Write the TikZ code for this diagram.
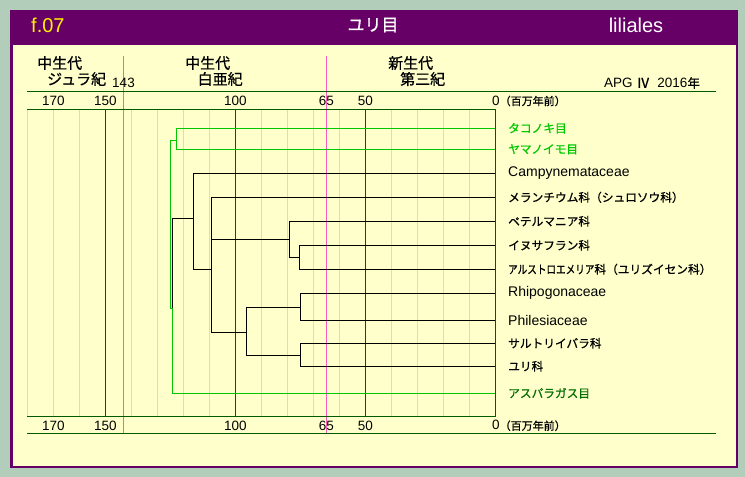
\documentclass[tikz,border=0pt]{standalone}
\usepackage{fontspec}
\setmainfont{Liberation Sans}
\newfontfamily\jp{Noto Sans CJK JP}[FakeBold=0.8]
\usetikzlibrary{positioning}
\definecolor{bgout}{RGB}{178,206,186}
\definecolor{paper}{RGB}{255,255,204}
\definecolor{headpurple}{RGB}{102,0,102}
\definecolor{axisgreen}{RGB}{0,90,0}
\definecolor{gridcyan}{RGB}{160,240,240}
\definecolor{gridpurple}{RGB}{128,0,128}
\definecolor{gridpink}{RGB}{255,90,190}
\definecolor{brightgreen}{RGB}{0,200,0}
\definecolor{darkgreen}{RGB}{0,110,0}
\newcommand\latname[1]{{\normalfont\fontsize{14}{14}\selectfont #1}}

\begin{document}
\begin{tikzpicture}
    [x=1pt,y=-1pt,every node/.style={inner sep=0pt, font=\fontsize{13.5}{13.5}\selectfont},
     era/.style={anchor=west, font=\jp\fontsize{15}{15}\selectfont},
     leaf/.style={anchor=west, font=\jp\fontsize{11.7}{12}\selectfont},
     axisline/.style={axisgreen, line width=1.5pt},
     gline/.style={brightgreen, line width=1.2pt},
     bline/.style={black, line width=1.2pt}]
  \useasboundingbox (0,0) rectangle (745,477);
  \fill[bgout] (0,0) rectangle (745,477);
  \fill[headpurple] (10,10) rectangle (738,468);
  \fill[paper] (12.5,45) rectangle (735.5,465.5);

  \node[anchor=west, text=yellow, font=\fontsize{20}{20}\selectfont] (fig) at (31,25) {f.07};
  \node[text=white, font=\jp\fontsize{17}{17}\selectfont] (title) at (373,25) {ユリ目};
  \node[text=white, font=\fontsize{20}{20}\selectfont] (latin) at (636,25) {liliales};

  \foreach \t in {180,170,...,10}
    \draw[gridcyan, line width=1pt] ({495.3-2.6*\t},109.3) -- ({495.3-2.6*\t},416);
  \foreach \t in {150,100,50}
    \draw[gridpurple, line width=1.2pt] ({495.3-2.6*\t},109.3) -- ({495.3-2.6*\t},416);
  \foreach \t in {143,65}
    \draw[gridpink, line width=1pt] ({495.3-2.6*\t},56) -- ({495.3-2.6*\t},433.3);

  \draw[axisline] (27,91.7) -- (716,91.7);
  \draw[axisline] (27,109.3) -- (495.3,109.3) -- (495.3,416.3) -- (27,416.3);
  \draw[axisline] (27,433.3) -- (716,433.3);

  \node[era] (meso1) at (37,63) {中生代};
  \node[era] (jura) at (47,79) {ジュラ紀};
  \node (b143) at (123.5,82.5) {143};
  \node[era] (meso2) at (185,63) {中生代};
  \node[era] (creta) at (197.5,79) {白亜紀};
  \node[era] (ceno) at (388,63) {新生代};
  \node[era] (tert) at (400,79) {第三紀};
  \node[anchor=west] (apg) at (604,83) {APG {\jp Ⅳ}\ \ 2016{\jp\fontsize{12.5}{12.5}\selectfont 年}};

  \foreach \t in {170,150,100,65,50} {
    \node (top\t) at ({495.3-2.6*\t},101) {\t};
    \node (bot\t) at ({495.3-2.6*\t},425.7) {\t};
  }
  \node[anchor=west] (top0) at (492,101) {0{\jp\fontsize{11}{11}\selectfont （百万年前）}};
  \node[anchor=west] (bot0) at (492,425.7) {0{\jp\fontsize{11}{11}\selectfont （百万年前）}};

  \foreach \name/\y/\col/\txt in {tako/128.3/brightgreen/タコノキ目, yama/149.3/brightgreen/ヤマノイモ目,
      camp/173.3/black/\latname{Campynemataceae}, melan/197.3/black/メランチウム科（シュロソウ科）,
      peter/221.3/black/ペテルマニア科, inu/245.3/black/イヌサフラン科,
      alst/269.3/black/\scalebox{0.82}[1]{アルストロエメリア}科（ユリズイセン科）,
      rhipo/293.3/black/\latname{Rhipogonaceae}, phile/320.3/black/\latname{Philesiaceae},
      sarut/343.3/black/サルトリイバラ科, yuri/366.3/black/ユリ科, aspa/393.3/darkgreen/アスパラガス目} {
    \coordinate (\name-e) at (495.3,\y);
    \node[leaf, text=\col] (\name) at (508,\y) {\txt};
  }

  \coordinate (root) at (170.3,140.3);
  \coordinate (pd) at (176.3,140.3);
  \coordinate (la) at (172.3,308.3);
  \coordinate (lil) at (193.3,218.3);
  \coordinate (mel) at (211.3,269.3);
  \coordinate (pc) at (289.3,239.3);
  \coordinate (ca) at (299.3,257.3);
  \coordinate (rs) at (246.3,332.3);
  \coordinate (rp) at (300.3,307.3);
  \coordinate (sl) at (300.3,355.3);

  \foreach \from/\to in {root/pd, root/la, pd/tako-e, pd/yama-e, la/aspa-e}
    \draw[gline] (\from) |- (\to);
  \foreach \from/\to in {la/lil, lil/camp-e, lil/mel, mel/melan-e, mel/pc, mel/rs, pc/peter-e, pc/ca,
      ca/inu-e, ca/alst-e, rs/rp, rs/sl, rp/rhipo-e, rp/phile-e, sl/sarut-e, sl/yuri-e}
    \draw[bline] (\from) |- (\to);
\end{tikzpicture}
\end{document}
